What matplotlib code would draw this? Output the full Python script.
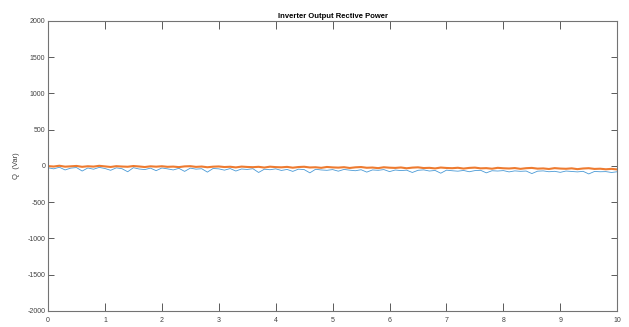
import numpy as np
import matplotlib; matplotlib.use("Agg")
import matplotlib.pyplot as plt

# Reactive power samples (Var)
q_blue = [-25, -40, -18, -55, -30, -22, -70, -28, -45, -20, -35, -60, -26, -38, -80, -24, -42,
          -50, -30, -65, -28, -40, -55, -33, -75, -30, -44, -38, -85, -35, -40, -58, -36, -70,
          -42, -48, -38, -90, -45, -52, -40, -62, -48, -75, -44, -50, -95, -46, -55, -60, -50,
          -72, -48, -58, -66, -52, -85, -55, -60, -50, -78, -56, -64, -58, -90, -60, -54, -70,
          -62, -100, -58, -66, -72, -62, -80, -64, -60, -95, -66, -70, -64, -82, -68, -74, -70,
          -105, -72, -68, -80, -74, -88, -70, -76, -82, -74, -110, -76, -80, -78, -90, -80]
q_orange = [-2, -8, 3, -10, -5, 0, -12, -4, -9, 2, -6, -14, -3, -8, -11, -1, -7, -15, -5, -10,
            -4, -12, -9, -16, -6, -3, -13, -8, -18, -10, -7, -15, -11, -20, -9, -14, -17, -12,
            -22, -10, -16, -19, -13, -24, -15, -11, -21, -18, -26, -14, -20, -23, -17, -28, -19,
            -15, -25, -22, -30, -18, -24, -27, -21, -32, -23, -19, -29, -26, -34, -22, -28, -31,
            -25, -36, -27, -23, -33, -30, -38, -26, -32, -35, -29, -40, -31, -27, -37, -34, -42,
            -30, -36, -39, -33, -44, -35, -31, -41, -38, -46, -40, -48]
t_blue = np.linspace(0, 10, len(q_blue))
t_orange = np.linspace(0, 10, len(q_orange))

plt.rcParams["font.family"] = ["Liberation Sans", "DejaVu Sans"]
plt.rcParams["axes.unicode_minus"] = False

fig = plt.figure(figsize=(6.29, 3.27), dpi=100)
ax = fig.add_axes([0.0763, 0.049, 0.905, 0.887])

ax.plot(t_blue, q_blue, color="#4A9AD6", lw=0.6)
ax.plot(t_orange, q_orange, color="#EE7B30", lw=1.5)

ax.set_xlim(0, 10)
ax.set_ylim(-2000, 2000)
ax.set_xticks(np.arange(0, 11, 1))
ax.set_yticks(np.arange(-2000, 2001, 500))
ax.tick_params(axis="both", direction="in", top=True, right=True,
               labelsize=5, colors="0.25", width=0.6)
ax.tick_params(axis="x", length=6, pad=4)
ax.tick_params(axis="y", length=4, pad=2)
for sp in ax.spines.values():
    sp.set_color("0.45")
    sp.set_linewidth(0.8)

ax.set_ylabel("Q  (Var)", fontsize=5.5, color="0.25", labelpad=5)
ax.set_title("Inverter Output Rective Power", fontsize=5.5, fontweight="bold", pad=2)

plt.savefig("out.png", dpi=100)
